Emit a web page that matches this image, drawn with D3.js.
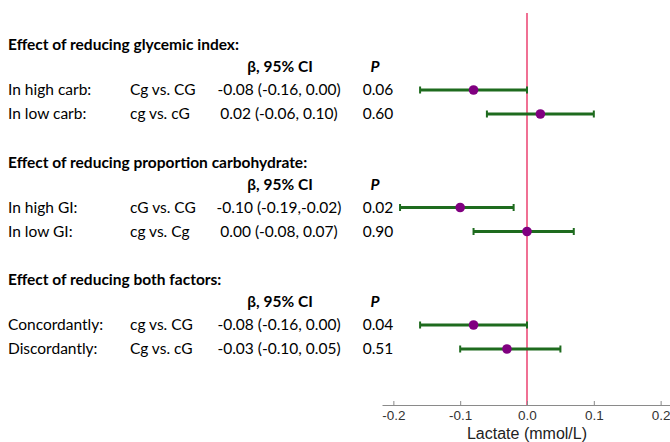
<!DOCTYPE html>
<meta charset="utf-8">
<head>
    <title>Lactate forest plot</title>
</head>
<style>
    body { margin: 0; background: white; }
    .tbl { font-family: Lato, "Open Sans", sans-serif; font-size: 15.5px; fill: #000; }
    .bold { font-weight: bold; }
    .axis text { font-family: "Liberation Sans", Arial, sans-serif; font-size: 13.5px; fill: #333; }
    .axis path, .axis line { stroke: #8a8a8a; }
</style>
<body>
<div id="chart"></div>
<script src="https://d3js.org/d3.v7.min.js"></script>
<script>

    var headings = ["Effect of reducing glycemic index:",
                    "Effect of reducing proportion carbohydrate:",
                    "Effect of reducing both factors:"];
    var labels = ["In high carb:", "In low carb:", "In high GI:", "In low GI:",
                  "Concordantly:", "Discordantly:"];
    var comparisons = ["Cg vs. CG", "cg vs. cG", "cG vs. CG", "cg vs. Cg",
                       "cg vs. CG", "Cg vs. cG"];
    var ciText = ["-0.08 (-0.16, 0.00)", "0.02 (-0.06, 0.10)", "-0.10 (-0.19,-0.02)",
                  "0.00 (-0.08, 0.07)", "-0.08 (-0.16, 0.00)", "-0.03 (-0.10, 0.05)"];
    var pText = ["0.06", "0.60", "0.02", "0.90", "0.04", "0.51"];
    var beta = [-0.08, 0.02, -0.10, 0.00, -0.08, -0.03];
    var lower = [-0.16, -0.06, -0.19, -0.08, -0.16, -0.10];
    var upper = [0.00, 0.10, -0.02, 0.07, 0.00, 0.05];
    var xTicks = [-0.2, -0.1, 0.0, 0.1, 0.2];

    var width = 670, height = 442;

    var svg = d3.select("#chart")
      .append("svg")
        .attr("width", width)
        .attr("height", height);

    var x = d3.scaleLinear()
      .domain([-0.217, 0.217])
      .range([382, 672]);

    // three groups: heading, header row, then two data rows
    function rowY(i) {
        var g = Math.floor(i / 2);
        return g * 117.5 + 90 + (i % 2) * 24;
    }

    var axisY = 405;

    // zero reference line
    svg.append("line")
      .attr("x1", x(0)).attr("x2", x(0))
      .attr("y1", 13).attr("y2", axisY)
      .attr("stroke", "#e8245a")
      .attr("stroke-width", 1.3);

    // table text
    headings.forEach(function(h, g) {
        var base = g * 117.5;
        svg.append("text")
          .attr("class", "tbl bold")
          .attr("x", 8)
          .attr("y", base + 45)
          .attr("dy", "0.35em")
          .text(h);
        svg.append("text")
          .attr("class", "tbl bold")
          .attr("x", 280)
          .attr("y", base + 67)
          .attr("dy", "0.35em")
          .attr("text-anchor", "middle")
          .text("β, 95% CI");
        svg.append("text")
          .attr("class", "tbl bold")
          .attr("x", 375)
          .attr("y", base + 67)
          .attr("dy", "0.35em")
          .attr("text-anchor", "middle")
          .style("font-style", "italic")
          .text("P");
    });

    labels.forEach(function(l, i) {
        var yy = rowY(i);
        svg.append("text").attr("class", "tbl")
          .attr("x", 8).attr("y", yy).attr("dy", "0.35em").text(l);
        svg.append("text").attr("class", "tbl")
          .attr("x", 130).attr("y", yy).attr("dy", "0.35em").text(comparisons[i]);
        svg.append("text").attr("class", "tbl")
          .attr("x", 279).attr("y", yy).attr("dy", "0.35em")
          .attr("text-anchor", "middle").text(ciText[i]);
        svg.append("text").attr("class", "tbl")
          .attr("x", 378).attr("y", yy).attr("dy", "0.35em")
          .attr("text-anchor", "middle").text(pText[i]);
    });

    // error bars
    var bars = svg.append("g")
      .selectAll("g")
      .data(beta)
      .enter()
      .append("g");

    bars.append("line")
      .attr("x1", function(d, i) { return x(lower[i]); })
      .attr("x2", function(d, i) { return x(upper[i]); })
      .attr("y1", function(d, i) { return rowY(i); })
      .attr("y2", function(d, i) { return rowY(i); })
      .attr("stroke", "#1e6b1e")
      .attr("stroke-width", 2.8);

    bars.append("line")
      .attr("x1", function(d, i) { return x(lower[i]); })
      .attr("x2", function(d, i) { return x(lower[i]); })
      .attr("y1", function(d, i) { return rowY(i) - 3.5; })
      .attr("y2", function(d, i) { return rowY(i) + 3.5; })
      .attr("stroke", "#1e6b1e")
      .attr("stroke-width", 2);

    bars.append("line")
      .attr("x1", function(d, i) { return x(upper[i]); })
      .attr("x2", function(d, i) { return x(upper[i]); })
      .attr("y1", function(d, i) { return rowY(i) - 3.5; })
      .attr("y2", function(d, i) { return rowY(i) + 3.5; })
      .attr("stroke", "#1e6b1e")
      .attr("stroke-width", 2);

    bars.append("circle")
      .attr("cx", function(d) { return x(d); })
      .attr("cy", function(d, i) { return rowY(i); })
      .attr("r", 4.8)
      .attr("fill", "#800080");

    // x axis
    var axis = svg.append("g")
      .attr("class", "axis")
      .attr("transform", "translate(0," + axisY + ")")
      .call(d3.axisBottom(x)
        .tickValues(xTicks)
        .tickSizeInner(-4)
        .tickSizeOuter(0)
        .tickPadding(5)
        .tickFormat(d3.format(".1f")));

    axis.selectAll(".tick text").text(function(d) { return d3.format(".1f")(d).replace("−", "-"); });

    svg.append("text")
      .attr("x", x(0))
      .attr("y", 433)
      .attr("dy", "0.35em")
      .attr("text-anchor", "middle")
      .style("font-family", "'Liberation Sans', Arial, sans-serif")
      .style("font-size", "16px")
      .style("fill", "#222")
      .text("Lactate (mmol/L)");

</script>
</body>
